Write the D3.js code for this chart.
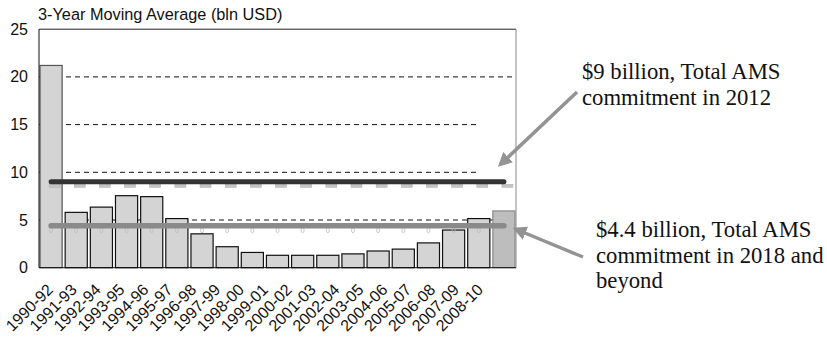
<!DOCTYPE html>
<html><head><meta charset="utf-8">
<script src="https://cdn.jsdelivr.net/npm/d3@7"></script>
<style>body{margin:0;background:#fff}svg{display:block}</style>
</head><body>
<script>
const categories = ["1990-92","1991-93","1992-94","1993-95","1994-96","1995-97","1996-98","1997-99","1998-00","1999-01","2000-02","2001-03","2002-04","2003-05","2004-06","2005-07","2006-08","2007-09","2008-10"];
const movingAverage = [21.2,5.8,6.35,7.55,7.45,5.15,3.55,2.2,1.6,1.3,1.3,1.3,1.45,1.75,1.95,2.6,3.95,5.15,5.95];
const ams2012 = [9,9,9,9,9,9,9,9,9,9,9,9,9,9,9,9,9,9,9];
const ams2018 = [4.4,4.4,4.4,4.4,4.4,4.4,4.4,4.4,4.4,4.4,4.4,4.4,4.4,4.4,4.4,4.4,4.4,4.4,4.4];
const yTicks = [0,5,10,15,20,25];
const title = "3-Year Moving Average (bln USD)";
const note1 = ["$9 billion, Total AMS","commitment in 2012"];
const note2 = ["$4.4 billion, Total AMS","commitment in 2018 and","beyond"];

const W=827,H=338;
const svg=d3.select("body").append("svg").attr("width",W).attr("height",H);
const x=d3.scaleBand().domain(categories).range([39,516]).paddingInner(0.12).paddingOuter(0.04);
const xLabel=d3.scalePoint().domain(categories).range([54,484]);
const y=d3.scaleLinear().domain([0,25]).range([267.7,29.2]);
const cx=c=>x(c)+x.bandwidth()/2;

// plot frame
svg.append("line").attr("x1",39).attr("x2",516).attr("y1",y(25)).attr("y2",y(25)).attr("stroke","#222");
svg.append("line").attr("x1",516).attr("x2",516).attr("y1",y(25)).attr("y2",y(0)).attr("stroke","#888");

// gridlines
[5,10,15,20].forEach(v=>{
  const end = (v===10||v===15)?478:516;
  svg.append("line").attr("x1",39).attr("x2",end).attr("y1",y(v)).attr("y2",y(v))
    .attr("stroke","#111").attr("stroke-dasharray","5,4").attr("stroke-width",1);
});

// bars
svg.selectAll("rect.bar").data(categories).join("rect").attr("class","bar")
  .attr("x",d=>x(d)).attr("width",x.bandwidth())
  .attr("y",(d,i)=>y(movingAverage[i])).attr("height",(d,i)=>y(0)-y(movingAverage[i]))
  .attr("fill",(d,i)=>i===categories.length-1?"#bdbdbd":"#d4d4d4")
  .attr("stroke",(d,i)=>i===0?"#555":(i===categories.length-1?"#8a8a8a":"#111"))
  .attr("stroke-width",1.2);

// markers under lines
svg.selectAll("rect.m1").data(categories).join("rect").attr("class","m1")
  .attr("x",d=>cx(d)-2).attr("y",(d,i)=>y(ams2012[i])+2.5).attr("width",11).attr("height",3)
  .attr("fill","#c4c4c4").attr("stroke","#aaa").attr("stroke-width",0.5);
svg.selectAll("ellipse.m2").data(categories).join("ellipse").attr("class","m2")
  .attr("cx",d=>cx(d)).attr("cy",(d,i)=>y(ams2018[i])+4.5).attr("rx",1.5).attr("ry",2.5)
  .attr("fill","none").attr("stroke","#bbb").attr("stroke-width",0.8);

// lines
const line9=d3.line().x((d,i)=>cx(categories[i])).y(d=>y(d));
svg.append("path").attr("d",line9(ams2012)).attr("stroke","#333").attr("stroke-width",5)
  .attr("fill","none").attr("stroke-linecap","round");
svg.append("path").attr("d",line9(ams2018)).attr("stroke","#8a8a8a").attr("stroke-width",5.5)
  .attr("fill","none").attr("stroke-linecap","round");

// axes
svg.append("line").attr("x1",39).attr("x2",39).attr("y1",y(25)).attr("y2",y(0)).attr("stroke","#111");
svg.append("line").attr("x1",39).attr("x2",516).attr("y1",y(0)).attr("y2",y(0)).attr("stroke","#111");
svg.selectAll("text.yt").data(yTicks).join("text").attr("class","yt")
  .attr("x",28).attr("y",d=>y(d)+5.5).attr("text-anchor","end")
  .attr("font-family","Liberation Sans, Arial, sans-serif").attr("font-size",16).attr("fill","#111").text(d=>d);
svg.selectAll("text.xt").data(categories).join("text").attr("class","xt")
  .attr("transform",d=>`translate(${xLabel(d)},${y(0)+23}) rotate(-45)`)
  .attr("text-anchor","end")
  .attr("font-family","Liberation Sans, Arial, sans-serif").attr("font-size",16).attr("fill","#111").text(d=>d);

svg.append("text").attr("x",38).attr("y",20).attr("font-family","Liberation Sans, Arial, sans-serif")
  .attr("font-size",16.3).attr("fill","#111").text(title);

// arrows
const defs=svg.append("defs");
defs.append("marker").attr("id","ah").attr("viewBox","0 0 10 10").attr("refX",5).attr("refY",5)
  .attr("markerWidth",4).attr("markerHeight",4).attr("orient","auto")
  .append("path").attr("d","M0,0L10,5L0,10z").attr("fill","#939393");
svg.append("line").attr("x1",577).attr("y1",92).attr("x2",503).attr("y2",162)
  .attr("stroke","#939393").attr("stroke-width",3.5).attr("marker-end","url(#ah)");
svg.append("line").attr("x1",583).attr("y1",257).attr("x2",519).attr("y2",230.5)
  .attr("stroke","#939393").attr("stroke-width",3.5).attr("marker-end","url(#ah)");

// annotations
const ff="Liberation Serif, Times New Roman, serif";
note1.forEach((t,i)=>svg.append("text").attr("x",582).attr("y",79+i*26).attr("font-family",ff)
  .attr("font-size",22.7).attr("fill","#111").text(t));
note2.forEach((t,i)=>svg.append("text").attr("x",596).attr("y",237+i*25.5).attr("font-family",ff)
  .attr("font-size",22.7).attr("fill","#111").text(t));
</script>
</body></html>
